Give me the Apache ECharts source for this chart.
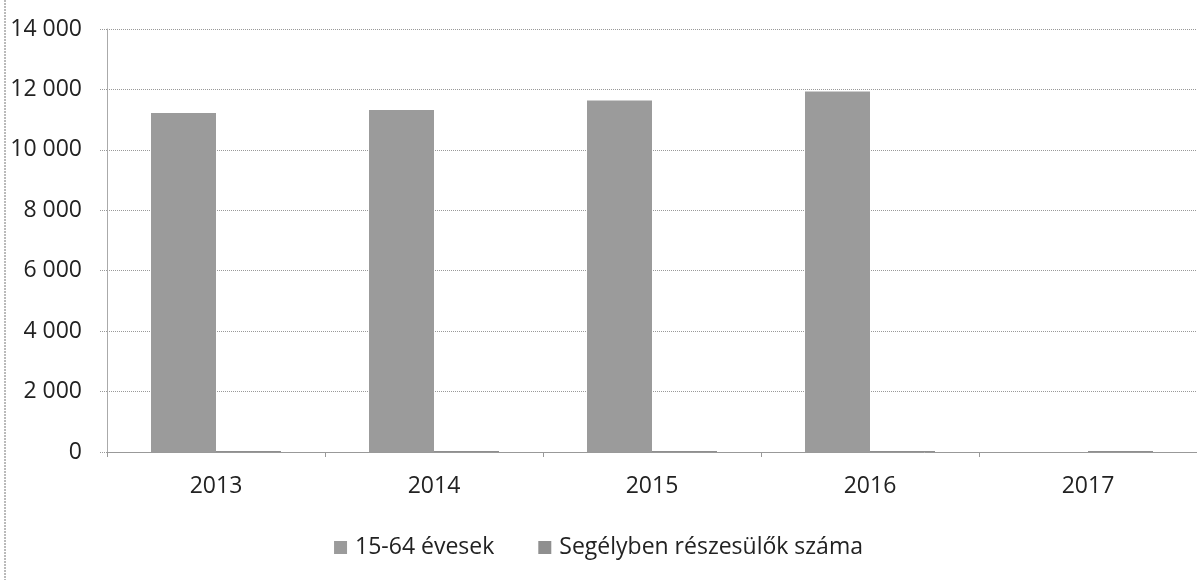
<!DOCTYPE html>
<html>
<head>
<meta charset="utf-8">
<script src="https://cdn.jsdelivr.net/npm/echarts@6/dist/echarts.min.js"></script>
<style>
  html, body { margin: 0; padding: 0; background: #fff; }
</style>
</head>
<body>
<div id="chart" style="width: 1197px; height: 580px"></div>
<script>
const years = ['2013', '2014', '2015', '2016', '2017']
const korosztaly = [11220, 11320, 11630, 11930, null]
const segelyezettek = [15, 12, 12, 12, 15]
const yTicks = [0, 2000, 4000, 6000, 8000, 10000, 12000, 14000]

const fontFamily = '"Open Sans", "Liberation Sans", sans-serif'
const fmt = v => String(v).replace(/\B(?=(\d{3})+(?!\d))/g, ' ')

const chart = echarts.init(document.getElementById('chart'))

const option = {
  animation: false,
  backgroundColor: '#fff',
  grid: { left: 107, right: 0, top: 29, bottom: 128 },
  // left edge of the chart frame
  graphic: [{
    type: 'line',
    shape: { x1: 5, y1: 0, x2: 5, y2: 580 },
    style: { stroke: '#777', lineWidth: 1, lineDash: [2, 1] }
  }],
  legend: {
    bottom: 16,
    left: 'center',
    itemWidth: 13,
    itemHeight: 13,
    itemGap: 44,
    icon: 'rect',
    textStyle: { fontFamily: fontFamily, fontSize: 23, color: '#222', padding: [0, 0, 0, 3] },
    data: ['15-64 évesek', 'Segélyben részesülők száma']
  },
  xAxis: {
    type: 'category',
    data: years,
    axisLine: { lineStyle: { color: '#999', width: 1 } },
    axisTick: { show: true, length: 5, lineStyle: { color: '#999' } },
    axisLabel: { fontFamily: fontFamily, fontSize: 23, color: '#222', margin: 23 }
  },
  yAxis: {
    type: 'value',
    min: yTicks[0],
    max: yTicks[yTicks.length - 1],
    interval: 2000,
    axisLine: { show: true, lineStyle: { color: '#aaa' } },
    axisTick: { show: true, length: 8, lineStyle: { color: '#999', type: 'dotted' } },
    axisLabel: {
      fontFamily: fontFamily, fontSize: 23, color: '#222', margin: 25,
      formatter: v => fmt(v)
    },
    splitLine: { lineStyle: { color: '#999', type: 'dotted', width: 1 } }
  },
  series: [
    {
      name: '15-64 évesek',
      type: 'bar',
      data: korosztaly,
      barWidth: 65,
      barGap: '0%',
      itemStyle: { color: '#9b9b9b' }
    },
    {
      name: 'Segélyben részesülők száma',
      type: 'bar',
      data: segelyezettek,
      barWidth: 65,
      barGap: '0%',
      barMinHeight: 1,
      itemStyle: { color: '#8f8f8f' }
    }
  ]
}

chart.setOption(option)
</script>
</body>
</html>
